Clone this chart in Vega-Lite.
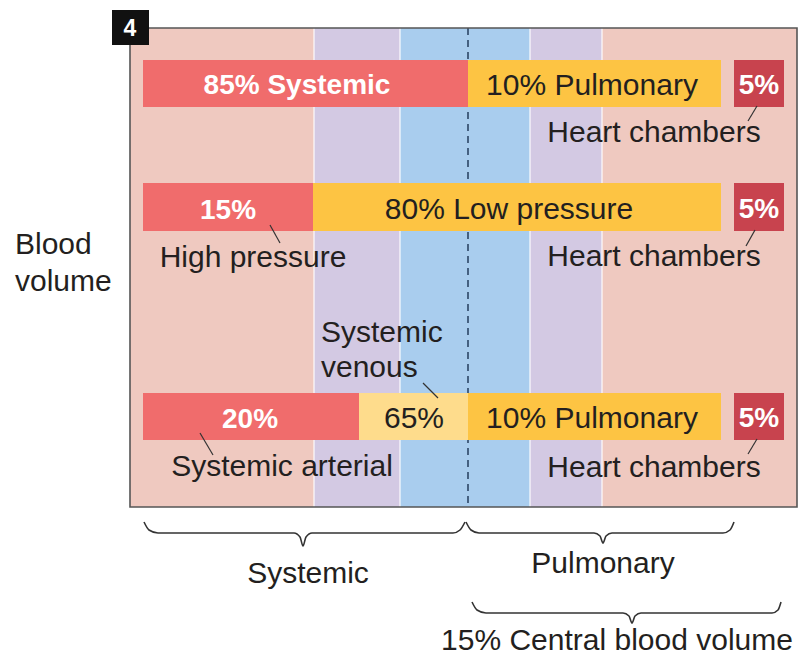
{
  "$schema": "https://vega.github.io/schema/vega-lite/v6.json",
  "width": 799,
  "height": 656,
  "padding": 0,
  "autosize": {"type": "none"},
  "background": "white",
  "config": {"view": {"stroke": null}},
  "datasets": {
    "rects": [
      {"part": "bg", "x": 130, "x2": 797, "y": 28, "y2": 507},
      {"part": "purple", "x": 314, "x2": 400, "y": 28, "y2": 507},
      {"part": "blue", "x": 400, "x2": 530, "y": 28, "y2": 507},
      {"part": "purple", "x": 530, "x2": 602, "y": 28, "y2": 507},
      {"part": "red", "x": 143, "x2": 468, "y": 60, "y2": 107},
      {"part": "orange", "x": 468, "x2": 721, "y": 60, "y2": 107},
      {"part": "dark", "x": 734, "x2": 784, "y": 60, "y2": 107},
      {"part": "red", "x": 143, "x2": 313, "y": 183, "y2": 231},
      {"part": "orange", "x": 313, "x2": 721, "y": 183, "y2": 231},
      {"part": "dark", "x": 734, "x2": 784, "y": 183, "y2": 231},
      {"part": "red", "x": 143, "x2": 359, "y": 393, "y2": 440},
      {"part": "light", "x": 359, "x2": 468, "y": 393, "y2": 440},
      {"part": "orange", "x": 468, "x2": 721, "y": 393, "y2": 440},
      {"part": "dark", "x": 734, "x2": 784, "y": 393, "y2": 440}
    ],
    "seps": [
      {"x": 314, "y": 28, "y2": 507},
      {"x": 400, "y": 28, "y2": 507},
      {"x": 530, "y": 28, "y2": 507},
      {"x": 602, "y": 28, "y2": 507}
    ],
    "leaders": [
      {"x": 757, "y": 106, "x2": 748, "y2": 121},
      {"x": 270, "y": 225, "x2": 280, "y2": 243},
      {"x": 755, "y": 230, "x2": 746, "y2": 246},
      {"x": 200, "y": 433, "x2": 213, "y2": 455},
      {"x": 423, "y": 383, "x2": 438, "y2": 398},
      {"x": 757, "y": 439, "x2": 748, "y2": 454}
    ],
    "braces": [
      {"b": "sys", "i": 1, "x": 144, "y": 522},
      {"b": "sys", "i": 2, "x": 149, "y": 530},
      {"b": "sys", "i": 3, "x": 158, "y": 533},
      {"b": "sys", "i": 4, "x": 294, "y": 533},
      {"b": "sys", "i": 5, "x": 300, "y": 537},
      {"b": "sys", "i": 6, "x": 303, "y": 546},
      {"b": "sys", "i": 7, "x": 306, "y": 537},
      {"b": "sys", "i": 8, "x": 312, "y": 533},
      {"b": "sys", "i": 9, "x": 453, "y": 533},
      {"b": "sys", "i": 10, "x": 460, "y": 530},
      {"b": "sys", "i": 11, "x": 465, "y": 522},
      {"b": "pul", "i": 1, "x": 466, "y": 522},
      {"b": "pul", "i": 2, "x": 471, "y": 530},
      {"b": "pul", "i": 3, "x": 479, "y": 533},
      {"b": "pul", "i": 4, "x": 594, "y": 533},
      {"b": "pul", "i": 5, "x": 600, "y": 536},
      {"b": "pul", "i": 6, "x": 603, "y": 543},
      {"b": "pul", "i": 7, "x": 606, "y": 536},
      {"b": "pul", "i": 8, "x": 612, "y": 533},
      {"b": "pul", "i": 9, "x": 723, "y": 533},
      {"b": "pul", "i": 10, "x": 730, "y": 530},
      {"b": "pul", "i": 11, "x": 734, "y": 522},
      {"b": "cen", "i": 1, "x": 472, "y": 602},
      {"b": "cen", "i": 2, "x": 477, "y": 610},
      {"b": "cen", "i": 3, "x": 486, "y": 613},
      {"b": "cen", "i": 4, "x": 623, "y": 613},
      {"b": "cen", "i": 5, "x": 629, "y": 616},
      {"b": "cen", "i": 6, "x": 632, "y": 623},
      {"b": "cen", "i": 7, "x": 635, "y": 616},
      {"b": "cen", "i": 8, "x": 641, "y": 613},
      {"b": "cen", "i": 9, "x": 772, "y": 613},
      {"b": "cen", "i": 10, "x": 778, "y": 610},
      {"b": "cen", "i": 11, "x": 781, "y": 602}
    ],
    "boldText": [
      {"label": "85% Systemic", "x": 297, "y": 94},
      {"label": "5%", "x": 759, "y": 94},
      {"label": "15%", "x": 228, "y": 219},
      {"label": "5%", "x": 759, "y": 218},
      {"label": "20%", "x": 250, "y": 428},
      {"label": "5%", "x": 759, "y": 427}
    ],
    "centerText": [
      {"label": "10% Pulmonary", "x": 592, "y": 95},
      {"label": "Heart chambers", "x": 654, "y": 142},
      {"label": "80% Low pressure", "x": 509, "y": 219},
      {"label": "High pressure", "x": 253, "y": 267},
      {"label": "Heart chambers", "x": 654, "y": 266},
      {"label": "65%", "x": 414, "y": 428},
      {"label": "10% Pulmonary", "x": 592, "y": 428},
      {"label": "Systemic arterial", "x": 282, "y": 476},
      {"label": "Heart chambers", "x": 654, "y": 477},
      {"label": "Systemic", "x": 308, "y": 583},
      {"label": "Pulmonary", "x": 603, "y": 573},
      {"label": "15% Central blood volume", "x": 617, "y": 650}
    ],
    "leftText": [
      {"label": "Systemic", "x": 321, "y": 342},
      {"label": "venous", "x": 321, "y": 377},
      {"label": "Blood", "x": 15, "y": 254},
      {"label": "volume", "x": 15, "y": 291}
    ],
    "panel": [
      {"label": "4", "x": 112, "x2": 149, "y": 10, "y2": 45, "tx": 130, "ty": 36}
    ],
    "frame": [
      {"x": 130, "x2": 797, "y": 28, "y2": 507}
    ],
    "divider": [
      {"x": 468, "y": 28, "y2": 507}
    ]
  },
  "layer": [
    {
      "data": {"name": "rects"},
      "mark": {"type": "rect"},
      "encoding": {
        "x": {"field": "x", "type": "quantitative", "scale": {"domain": [0, 799], "nice": false, "zero": false}, "axis": null},
        "x2": {"field": "x2"},
        "y": {"field": "y", "type": "quantitative", "scale": {"domain": [0, 656], "nice": false, "zero": false, "reverse": true}, "axis": null},
        "y2": {"field": "y2"},
        "color": {
          "field": "part", "type": "nominal", "legend": null,
          "scale": {
            "domain": ["bg", "purple", "blue", "red", "orange", "light", "dark"],
            "range": ["#efc9c0", "#d3c9e3", "#a9cdee", "#f06c6c", "#fdc443", "#fedc8c", "#c8434e"]
          }
        }
      }
    },
    {
      "data": {"name": "seps"},
      "mark": {"type": "rule", "color": "#ffffff", "strokeWidth": 1.5, "opacity": 0.75},
      "encoding": {
        "x": {"field": "x", "type": "quantitative"},
        "y": {"field": "y", "type": "quantitative"},
        "y2": {"field": "y2"}
      }
    },
    {
      "data": {"name": "divider"},
      "mark": {"type": "rule", "color": "#2c4666", "strokeWidth": 1.6, "strokeDash": [7, 5]},
      "encoding": {
        "x": {"field": "x", "type": "quantitative"},
        "y": {"field": "y", "type": "quantitative"},
        "y2": {"field": "y2"}
      }
    },
    {
      "data": {"name": "rects"},
      "transform": [{"filter": "datum.part != 'bg' && datum.part != 'purple' && datum.part != 'blue'"}],
      "mark": {"type": "rect"},
      "encoding": {
        "x": {"field": "x", "type": "quantitative"},
        "x2": {"field": "x2"},
        "y": {"field": "y", "type": "quantitative"},
        "y2": {"field": "y2"},
        "color": {"field": "part", "type": "nominal", "legend": null}
      }
    },
    {
      "data": {"name": "frame"},
      "mark": {"type": "rect", "filled": false, "color": "#555555", "strokeWidth": 1.6},
      "encoding": {
        "x": {"field": "x", "type": "quantitative"},
        "x2": {"field": "x2"},
        "y": {"field": "y", "type": "quantitative"},
        "y2": {"field": "y2"}
      }
    },
    {
      "data": {"name": "panel"},
      "mark": {"type": "rect", "color": "#111111"},
      "encoding": {
        "x": {"field": "x", "type": "quantitative"},
        "x2": {"field": "x2"},
        "y": {"field": "y", "type": "quantitative"},
        "y2": {"field": "y2"}
      }
    },
    {
      "data": {"name": "panel"},
      "mark": {"type": "text", "color": "#ffffff", "font": "Liberation Sans", "fontWeight": "bold", "fontSize": 23, "align": "center", "baseline": "alphabetic"},
      "encoding": {
        "x": {"field": "tx", "type": "quantitative"},
        "y": {"field": "ty", "type": "quantitative"},
        "text": {"field": "label"}
      }
    },
    {
      "data": {"name": "leaders"},
      "mark": {"type": "rule", "color": "#333333", "strokeWidth": 1.2},
      "encoding": {
        "x": {"field": "x", "type": "quantitative"},
        "y": {"field": "y", "type": "quantitative"},
        "x2": {"field": "x2"},
        "y2": {"field": "y2"}
      }
    },
    {
      "data": {"name": "braces"},
      "mark": {"type": "line", "color": "#333333", "strokeWidth": 1.6, "interpolate": "monotone"},
      "encoding": {
        "x": {"field": "x", "type": "quantitative"},
        "y": {"field": "y", "type": "quantitative"},
        "detail": {"field": "b", "type": "nominal"},
        "order": {"field": "i", "type": "quantitative"}
      }
    },
    {
      "data": {"name": "boldText"},
      "mark": {"type": "text", "color": "#ffffff", "font": "Liberation Sans", "fontWeight": "bold", "fontSize": 28, "align": "center", "baseline": "alphabetic"},
      "encoding": {
        "x": {"field": "x", "type": "quantitative"},
        "y": {"field": "y", "type": "quantitative"},
        "text": {"field": "label"}
      }
    },
    {
      "data": {"name": "centerText"},
      "mark": {"type": "text", "color": "#231f20", "font": "Liberation Sans", "fontSize": 30, "align": "center", "baseline": "alphabetic"},
      "encoding": {
        "x": {"field": "x", "type": "quantitative"},
        "y": {"field": "y", "type": "quantitative"},
        "text": {"field": "label"}
      }
    },
    {
      "data": {"name": "leftText"},
      "mark": {"type": "text", "color": "#231f20", "font": "Liberation Sans", "fontSize": 30, "align": "left", "baseline": "alphabetic"},
      "encoding": {
        "x": {"field": "x", "type": "quantitative"},
        "y": {"field": "y", "type": "quantitative"},
        "text": {"field": "label"}
      }
    }
  ]
}
